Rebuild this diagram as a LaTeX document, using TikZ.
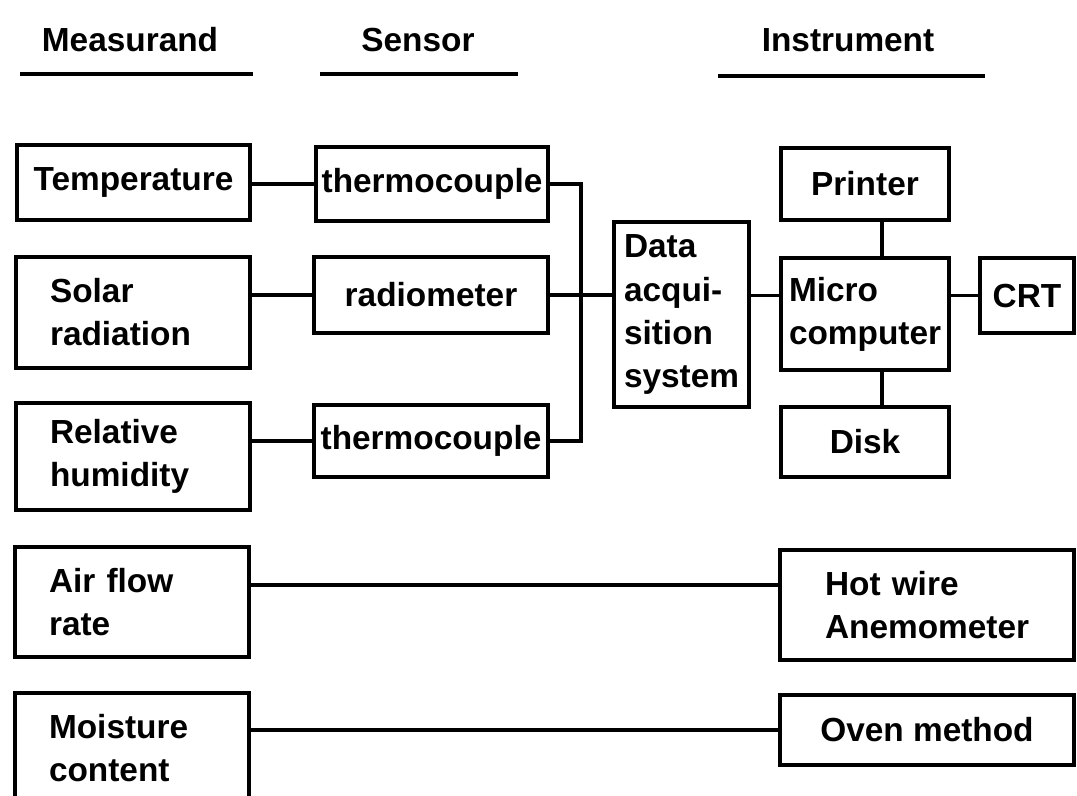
\documentclass[tikz,border=0pt]{standalone}
\usepackage{fontspec}
\setmainfont{Liberation Sans}
\usepackage{tikz}
\usetikzlibrary{positioning}

\begin{document}
\begin{tikzpicture}[x=0.02cm, y=-0.02cm, line width=2pt,
    font=\fontsize{19}{24.5}\selectfont\bfseries,
    blk/.style={draw, rectangle, inner sep=0pt},
    leftblk/.style={blk, align=left, inner xsep=0.68cm, text width=3.32cm}]
    \clip (0,0) rectangle (1077,795);

    % ── HEADINGS ──────────────────────────────────────────────────────
    \node (hmeas) at (130,40) {Measurand};
    \node (hsens) at (418,40) {Sensor};
    \node (hinst) at (848,40) {Instrument};
    \draw (20,74) -- (253,74);
    \draw (320,74) -- (518,74);
    \draw (718,76) -- (985,76);

    % ── MEASURANDS ────────────────────────────────────────────────────
    \node[blk, minimum width=4.66cm, minimum height=1.5cm] (temp) at (133.5,182.5) {Temperature};
    \node[leftblk, minimum height=2.22cm] (solar) at (133,312.5) {Solar\\radiation};
    \node[leftblk, minimum height=2.14cm] (humid) at (133,456.5) {Relative\\humidity};
    \node[leftblk, minimum height=2.2cm] (air) at (132,602) {Air flow\\rate};
    \node[leftblk, minimum height=2.2cm] (moist) at (132,748) {Moisture\\content};

    % ── SENSORS ───────────────────────────────────────────────────────
    \node[blk, minimum width=4.64cm, minimum height=1.48cm] (tcA) at (432,184) {thermocouple};
    \node[blk, minimum width=4.68cm, minimum height=1.52cm] (radio) at (431,295) {radiometer};
    \node[blk, minimum width=4.68cm, minimum height=1.44cm] (tcB) at (431,441) {thermocouple};

    % ── INSTRUMENTS ───────────────────────────────────────────────────
    \node[blk, align=left, inner xsep=0.2cm, text width=2.3cm, minimum height=3.7cm] (daq) at (681.5,314.5) {Data\\acqui-\\sition\\system};
    \node[blk, align=left, inner xsep=0.16cm, text width=3.04cm, minimum height=2.24cm] (micro) at (865,314) {Micro\\computer};
    \node[blk, minimum width=3.36cm, minimum height=1.44cm] (printer) at (865,184) {Printer};
    \node[blk, minimum width=3.36cm, minimum height=1.4cm] (disk) at (865,442) {Disk};
    \node[blk, minimum width=1.88cm, minimum height=1.5cm] (crt) at (1027,295.5) {CRT};
    \node[blk, align=left, inner xsep=0.9cm, text width=4.08cm, minimum height=2.2cm] (hotwire) at (927,605) {Hot wire\\Anemometer};
    \node[blk, minimum width=5.88cm, minimum height=1.4cm] (oven) at (927,730) {Oven method};

    % ── CONNECTIONS ───────────────────────────────────────────────────
    \coordinate (bus) at (581,294);
    \coordinate (stem) at (882,0);
    \coordinate (airlink) at (0,585);
    \draw (tcA.west -| temp.east) -- (tcA.west);
    \draw (radio.west -| solar.east) -- (radio.west);
    \draw (tcB.west -| humid.east) -- (tcB.west);
    \draw (tcA.east) -| (bus) |- (tcB.east);
    \draw (radio.east) -- (radio.east -| daq.west);
    \draw (crt.west -| daq.east) -- (crt.west -| micro.west);
    \draw (micro.east |- crt.west) -- (crt.west);
    \draw (printer.south -| stem) -- (micro.north -| stem);
    \draw (micro.south -| stem) -- (disk.north -| stem);
    \draw (air.east |- airlink) -- (hotwire.west |- airlink);
    \draw (oven.west -| moist.east) -- (oven.west);
\end{tikzpicture}
\end{document}
